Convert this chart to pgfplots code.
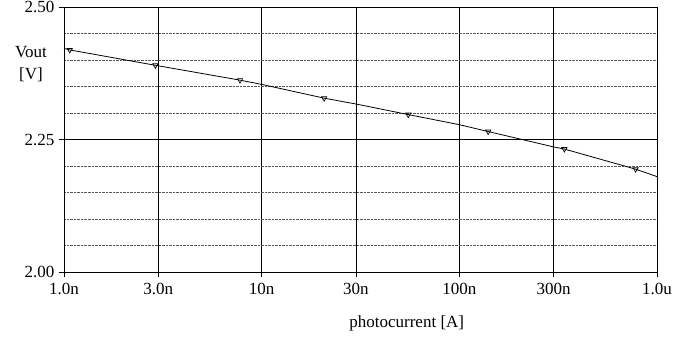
\documentclass[border=0pt]{standalone}
\usepackage{fontspec}
\setmainfont{Liberation Serif}
\usepackage{pgfplots}
\pgfplotsset{compat=1.18}
\begin{document}
\begin{tikzpicture}
\path[use as bounding box] (-64bp,-75bp) rectangle (613bp,272bp);
\begin{axis}[
  at={(0,0)}, anchor=south west,
  scale only axis,
  width=593bp, height=265bp,
  xmode=log,
  xmin=1e-9, xmax=1e-6,
  ymin=2.0, ymax=2.5,
  xtick={1e-9,3e-9,1e-8,3e-8,1e-7,3e-7,1e-6},
  xticklabels={1.0n,3.0n,10n,30n,100n,300n,1.0u},
  ytick={2.0,2.25,2.5},
  yticklabels={2.00,2.25,2.50},
  minor ytick={2.05,2.10,2.15,2.20,2.30,2.35,2.40,2.45},
  minor tick length=0pt,
  major tick length=5bp,
  tick align=outside,
  tick pos=left,
  axis line style={line width=0.9pt},
  every tick/.style={black, line width=0.9pt},
  xmajorgrids, ymajorgrids, yminorgrids,
  major grid style={black, line width=0.8pt},
  minor grid style={black!65, densely dotted, line width=1pt},
  ticklabel style={font=\fontsize{17bp}{20bp}\selectfont},
  xticklabel style={yshift=-3bp},
  yticklabel style={xshift=-1bp},
  xlabel={photocurrent [A]},
  xlabel style={font=\fontsize{17bp}{20bp}\selectfont, at={(axis description cs:0.578,0)}, anchor=north, yshift=-40bp},
  ylabel={Vout\\{[V]}},
  ylabel style={font=\fontsize{17bp}{22bp}\selectfont, rotate=-90, align=center, at={(axis description cs:-0.0556,0.785)}, anchor=center},
]
\addplot[black, line width=0.8pt, no marks] coordinates {
(1e-9,2.422) (1.07e-9,2.419) (2.9e-9,2.390) (7.77e-9,2.362) (1e-8,2.354)
(2.07e-8,2.328) (3e-8,2.317) (5.52e-8,2.297) (1e-7,2.278) (1.4e-7,2.265)
(3e-7,2.236) (3.4e-7,2.232) (7.8e-7,2.194) (1e-6,2.180)
};
\addplot[only marks, black, mark=triangle, mark size=3bp, mark options={rotate=180, fill=white, line width=0.7pt}] coordinates {
(1.07e-9,2.419) (2.9e-9,2.390) (7.77e-9,2.362) (2.07e-8,2.328)
(5.52e-8,2.297) (1.4e-7,2.265) (3.4e-7,2.232) (7.8e-7,2.194)
};
\end{axis}
\end{tikzpicture}
\end{document}
